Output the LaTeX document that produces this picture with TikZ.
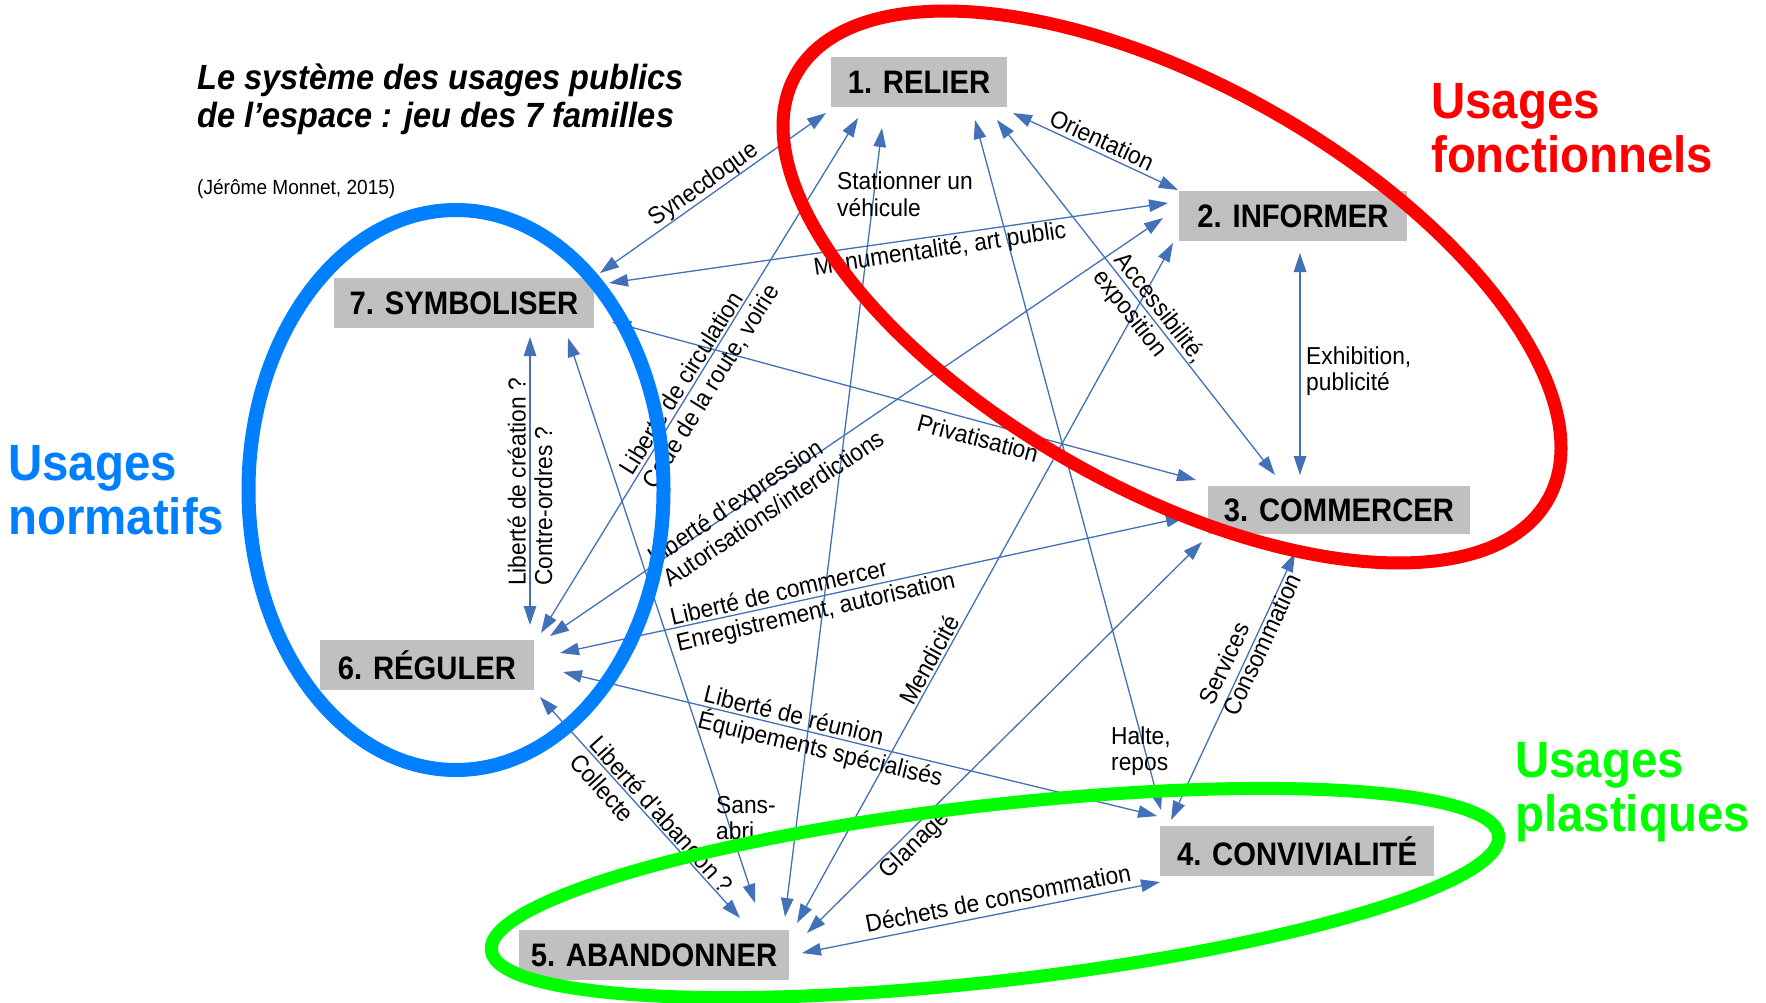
\documentclass[tikz,border=0pt]{standalone}
\usepackage{fontspec}
\setmainfont{Liberation Sans}
\newfontfamily\famfont[FakeStretch=0.9]{Liberation Sans}
\newfontfamily\lblfont[FakeStretch=0.93]{Liberation Sans}
\newfontfamily\headfont[FakeStretch=0.93]{Liberation Sans}
\newfontfamily\titlefont[FakeStretch=0.93]{Liberation Sans}
\usetikzlibrary{arrows.meta,calc}
\definecolor{lk}{RGB}{66,113,184}
\definecolor{boxgray}{RGB}{192,192,192}
\definecolor{ured}{RGB}{255,0,0}
\definecolor{ublue}{RGB}{0,128,255}
\definecolor{ugreen}{RGB}{0,255,0}
\pgfdeclarelayer{bg}
\pgfdeclarelayer{zones}
\pgfsetlayers{bg,zones,main}
\begin{document}
\begin{tikzpicture}[x=1pt,y=-1pt,
  fam/.style={inner sep=0pt,font=\famfont\fontsize{32.5}{36}\selectfont\bfseries},
  lbl/.style={inner sep=0pt,font=\lblfont\fontsize{24.5}{26.5}\selectfont,align=left},
  link/.style={draw=lk,line width=1.3pt,{Triangle[length=19pt,width=12.5pt]}-{Triangle[length=19pt,width=12.5pt]}},
  zone/.style={line width=13pt},
  usage/.style={inner sep=0pt,anchor=north west,align=left,font=\headfont\fontsize{51}{54}\selectfont\bfseries}]
\useasboundingbox (0,0) rectangle (1766,1003);

% families (text on top of everything)
\node[fam,minimum width=176pt,minimum height=50pt] (n1) at (919,82) {1. RELIER};
\node[fam,minimum width=228pt,minimum height=49pt] (n2) at (1293,216) {2. INFORMER};
\node[fam,minimum width=262pt,minimum height=48pt] (n3) at (1339,510) {3. COMMERCER};
\node[fam,minimum width=274pt,minimum height=50pt] (n4) at (1297,851) {4. CONVIVIALITÉ};
\node[fam,minimum width=269pt,minimum height=49pt] (n5) at (654,955) {5. ABANDONNER};
\node[fam,minimum width=214pt,minimum height=49pt] (n6) at (427,665) {6. RÉGULER};
\node[fam,minimum width=260pt,minimum height=49pt] (n7) at (464,303) {7. SYMBOLISER};

\begin{pgfonlayer}{bg}
\fill[white] (0,0) rectangle (1766,1003);
\foreach \n in {n1,n2,n3,n4,n5,n6,n7}
  \fill[boxgray] (\n.south west) rectangle (\n.north east);

% title
\node[anchor=north west,inner sep=0pt,align=left,font=\titlefont\fontsize{35}{37.5}\selectfont\bfseries\itshape] (title) at (197,64) {Le système des usages publics\\de l’espace : jeu des 7 familles};
\node[anchor=base west,inner sep=0pt,font=\titlefont\fontsize{20.5}{22}\selectfont] (credit) at (197,195) {(Jérôme Monnet, 2015)};

% connectors
\draw[link] ($(n1)+(-93,31)$) -- ($(n7)+(136,-30)$);
\draw[link] ($(n2)+(-125,-13)$) -- ($(n7)+(145,-20)$);
\draw[link] ($(n7)+(148,19)$) -- ($(n3)+(-143,-30)$);
\draw[link] ($(n7)+(66,34)$) -- ($(n6)+(103,-40)$);
\draw[link] ($(n7)+(104,35)$) -- ($(n5)+(101,-52)$);
\draw[link] ($(n1)+(-61,36)$) -- ($(n6)+(114,-32)$);
\draw[link] ($(n1)+(-37,46)$) -- ($(n5)+(131,-38)$);
\draw[link] ($(n1)+(94,31)$) -- ($(n2)+(-115,-26)$);
\draw[link] ($(n1)+(78,38)$) -- ($(n3)+(-64,-35)$);
\draw[link] ($(n1)+(56,38)$) -- ($(n4)+(-136,-41)$);
\draw[link] ($(n2)+(7,37)$) -- ($(n3)+(-39,-35)$);
\draw[link] ($(n2)+(-130,2)$) -- ($(n6)+(123,-29)$);
\draw[link] ($(n2)+(-120,27)$) -- ($(n5)+(143,-32)$);
\draw[link] ($(n3)+(-154,7)$) -- ($(n6)+(133,-12)$);
\draw[link] ($(n3)+(-137,32)$) -- ($(n5)+(153,-22)$);
\draw[link] ($(n3)+(-44,43)$) -- ($(n4)+(-126,-31)$);
\draw[link] ($(n6)+(136,7)$) -- ($(n4)+(-140,-35)$);
\draw[link] ($(n6)+(113,32)$) -- ($(n5)+(86,-37)$);
\draw[link] ($(n5)+(148,-2)$) -- ($(n4)+(-137,31)$);

% labels
\node[lbl,rotate=35.3] (l1) at (704,185) {Synecdoque};
\node[lbl,anchor=west] (l2) at (837,194) {Stationner un\\véhicule};
\node[lbl,rotate=8.5] (l3) at (940,250) {Monumentalité, art public};
\node[lbl,rotate=-25] (l4) at (1102,140) {Orientation};
\node[lbl,rotate=-52] (l5) at (1149,317) {Accessibilité,\\exposition};
\node[lbl,anchor=west] (l6) at (1306,371) {Exhibition,\\publicité};
\node[lbl,rotate=-15] (l7) at (978,438) {Privatisation};
\node[lbl,rotate=58] (l8) at (700,380) {Liberté de circulation\\Code de la route, voirie};
\node[lbl,rotate=34] (l9) at (766,497) {Liberté d’expression\\Autorisations/interdictions};
\node[lbl,rotate=13] (l10) at (813,600) {Liberté de commercer\\Enregistrement, autorisation};
\node[lbl,rotate=-13.6] (l11) at (823,738) {Liberté de réunion\\Équipements spécialisés};
\node[lbl,rotate=-48] (l12) at (652,823) {Liberté d'abandon ?\\Collecte};
\node[lbl,rotate=90] (l13) at (530,482) {Liberté de création ?\\Contre-ordres ?};
\node[lbl,anchor=west] (l14) at (716,818) {Sans-\\abri};
\node[lbl,rotate=61] (l15) at (929,660) {Mendicité};
\node[lbl,rotate=44.7] (l16) at (915,845) {Glanage};
\node[lbl,anchor=west] (l17) at (1111,751) {Halte,\\repos};
\node[lbl,rotate=65] (l18) at (1250,639) {Services\\Consommation};
\node[lbl,rotate=11.2] (l19) at (998,898) {Déchets de consommation};
\end{pgfonlayer}

% zones
\begin{pgfonlayer}{zones}
\draw[zone,ured,rotate around={-29.5:(1172,287)}] (1172,287) ellipse [x radius=432pt, y radius=202pt];
\draw[line width=14pt,ublue] (456,490) ellipse [x radius=207.5pt, y radius=280pt];
\draw[zone,ugreen,rotate around={6.5:(995,893)}] (995,893) ellipse [x radius=507pt, y radius=88pt];
\end{pgfonlayer}

\node[usage,text=ured] (uf) at (1431,83) {Usages\\fonctionnels};
\node[usage,text=ublue] (un) at (8,445) {Usages\\normatifs};
\node[usage,text=ugreen] (up) at (1515,742) {Usages\\plastiques};
\end{tikzpicture}
\end{document}
